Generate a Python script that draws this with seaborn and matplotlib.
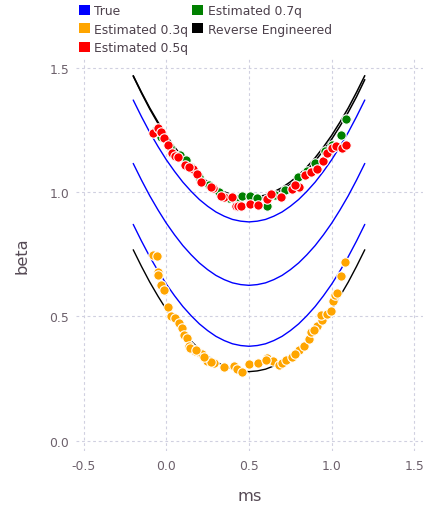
import numpy as np
import pandas as pd
import matplotlib
matplotlib.use("Agg")
import matplotlib.pyplot as plt
from matplotlib.patches import Patch
import seaborn as sns

# ---------------- data ----------------
curve_x = [-0.2, -0.15, -0.1, -0.05, 0.0, 0.05, 0.1, 0.15, 0.2, 0.25, 0.3, 0.35, 0.4, 0.45, 0.5,
           0.55, 0.6, 0.65, 0.7, 0.75, 0.8, 0.85, 0.9, 0.95, 1.0, 1.05, 1.1, 1.15, 1.2]
true_q7 = [1.37, 1.303, 1.24, 1.183, 1.13, 1.083, 1.04, 1.003, 0.97, 0.943, 0.92, 0.903, 0.89, 0.883, 0.88,
           0.883, 0.89, 0.903, 0.92, 0.943, 0.97, 1.003, 1.04, 1.083, 1.13, 1.183, 1.24, 1.303, 1.37]
true_q5 = [1.115, 1.048, 0.985, 0.928, 0.875, 0.828, 0.785, 0.748, 0.715, 0.688, 0.665, 0.648, 0.635, 0.628, 0.625,
           0.628, 0.635, 0.648, 0.665, 0.688, 0.715, 0.748, 0.785, 0.828, 0.875, 0.928, 0.985, 1.048, 1.115]
true_q3 = [0.87, 0.803, 0.74, 0.683, 0.63, 0.583, 0.54, 0.503, 0.47, 0.443, 0.42, 0.403, 0.39, 0.383, 0.38,
           0.383, 0.39, 0.403, 0.42, 0.443, 0.47, 0.503, 0.54, 0.583, 0.63, 0.683, 0.74, 0.803, 0.87]
rev_a = [1.468, 1.401, 1.338, 1.281, 1.228, 1.181, 1.138, 1.101, 1.068, 1.041, 1.018, 1.001, 0.988, 0.981, 0.978,
         0.981, 0.988, 1.001, 1.018, 1.041, 1.068, 1.101, 1.138, 1.181, 1.228, 1.281, 1.338, 1.401, 1.468]
rev_b = [1.466, 1.398, 1.334, 1.276, 1.222, 1.174, 1.131, 1.093, 1.060, 1.033, 1.010, 0.993, 0.980, 0.973, 0.970,
         0.973, 0.980, 0.992, 1.009, 1.031, 1.057, 1.089, 1.125, 1.167, 1.213, 1.265, 1.321, 1.383, 1.452]
rev_c = [0.768, 0.701, 0.638, 0.581, 0.528, 0.481, 0.438, 0.401, 0.368, 0.341, 0.318, 0.301, 0.288, 0.281, 0.278,
         0.281, 0.288, 0.301, 0.318, 0.341, 0.368, 0.401, 0.438, 0.481, 0.528, 0.581, 0.638, 0.701, 0.768]

q3_x = [-0.082, -0.058, -0.050, -0.048, -0.032, -0.016, 0.010, 0.027, 0.051, 0.075, 0.093, 0.109,
        0.123, 0.139, 0.157, 0.175, 0.206, 0.246, 0.290, 0.351, 0.411, 0.426, 0.460, 0.502,
        0.556, 0.611, 0.647, 0.683, 0.698, 0.722, 0.758, 0.802, 0.833, 0.861, 0.875, 0.909,
        0.943, 0.935, 0.970, 0.998, 1.010, 1.020, 1.034, 1.058, 1.082, 0.145, 0.215, 0.270,
        0.605, 0.780, 0.890, 0.180, 0.230]
q3_y = [0.748, 0.742, 0.680, 0.665, 0.628, 0.606, 0.539, 0.503, 0.494, 0.472, 0.452, 0.426,
        0.413, 0.380, 0.369, 0.362, 0.354, 0.322, 0.311, 0.298, 0.300, 0.288, 0.275, 0.307,
        0.313, 0.333, 0.321, 0.305, 0.311, 0.326, 0.337, 0.366, 0.382, 0.409, 0.436, 0.460,
        0.487, 0.506, 0.510, 0.520, 0.561, 0.587, 0.594, 0.661, 0.718, 0.375, 0.350, 0.318,
        0.326, 0.350, 0.445, 0.365, 0.335]

q5_x = [-0.082, -0.048, -0.032, -0.014, 0.012, 0.033, 0.053, 0.073, 0.113, 0.163, 0.187, 0.210,
        0.284, 0.351, 0.395, 0.419, 0.435, 0.452, 0.506, 0.556, 0.611, 0.633, 0.692, 0.758,
        0.804, 0.839, 0.873, 0.911, 0.945, 0.970, 1.000, 1.024, 1.062, 1.086, 0.270, 0.330,
        0.140, 0.780]
q5_y = [1.238, 1.257, 1.243, 1.218, 1.191, 1.156, 1.144, 1.140, 1.110, 1.093, 1.074, 1.039,
        1.015, 0.979, 0.979, 0.945, 0.945, 0.943, 0.952, 0.948, 0.972, 0.992, 0.981, 1.012,
        1.022, 1.070, 1.082, 1.093, 1.124, 1.156, 1.177, 1.187, 1.177, 1.191, 1.020, 0.985,
        1.100, 1.030]

q7_x = [-0.060, -0.030, 0.020, 0.080, 0.120, 0.150, 0.200, 0.260, 0.320, 0.380, 0.420, 0.456,
        0.506, 0.550, 0.611, 0.660, 0.720, 0.798, 0.850, 0.900, 0.960, 1.000, 1.056, 1.085]
q7_y = [1.250, 1.220, 1.180, 1.150, 1.130, 1.100, 1.060, 1.030, 1.000, 0.975, 0.965, 0.986,
        0.986, 0.975, 0.943, 0.990, 1.010, 1.059, 1.085, 1.115, 1.165, 1.190, 1.230, 1.295]

legend_labels = ["True", "Estimated 0.3q", "Estimated 0.5q", "Estimated 0.7q", "Reverse Engineered"]
legend_colors = ["#0000FF", "#FFA500", "#FF0000", "#008000", "#000000"]

x_ticks = [-0.5, 0.0, 0.5, 1.0, 1.5]
y_ticks = [0.0, 0.5, 1.0, 1.5]

# ---------------- figure ----------------
sns.set_theme(style="white")
plt.rcParams["font.family"] = ["DejaVu Sans"]

fig = plt.figure(figsize=(4.3, 5.1), dpi=100)
ax = fig.add_axes([76 / 430, 1 - 452 / 510, (423 - 76) / 430, (452 - 60) / 510])

curves = [(true_q7, "#0000FF", 1.0), (true_q5, "#0000FF", 1.0), (true_q3, "#0000FF", 1.0),
          (rev_a, "#000000", 1.1), (rev_b, "#000000", 1.1), (rev_c, "#000000", 1.0)]
for ys, col, lw in curves:
    sns.lineplot(x=curve_x, y=ys, color=col, linewidth=lw, ax=ax, zorder=2,
                 estimator=None, sort=False)

for xs, ys, col in [(q7_x, q7_y, "#008000"), (q3_x, q3_y, "#FFA500"), (q5_x, q5_y, "#FF0000")]:
    df = pd.DataFrame({"ms": xs, "beta": ys})
    sns.scatterplot(data=df, x="ms", y="beta", color=col, s=46, edgecolor="white",
                    linewidth=0.8, ax=ax, zorder=3, legend=False)

ax.set_xlim(-0.546, 1.552)
ax.set_ylim(-0.041, 1.535)
ax.set_xticks(x_ticks)
ax.set_yticks(y_ticks)
ax.set_xticklabels([f"{v:.1f}" for v in x_ticks])
ax.set_yticklabels([f"{v:.1f}" for v in y_ticks])
ax.grid(True, color="#D0D0E0", linestyle=(0, (2.5, 2.5)), linewidth=0.8)
ax.set_axisbelow(True)
for sp in ax.spines.values():
    sp.set_visible(False)
ax.tick_params(axis="both", length=0, labelsize=8.9, labelcolor="#6c606b")
ax.tick_params(axis="x", pad=6)
ax.tick_params(axis="y", pad=5)
ax.set_xlabel("ms", fontsize=11.7, color="#564a55", labelpad=11)
ax.set_ylabel("beta", fontsize=11.7, color="#564a55", labelpad=14)

handles = [Patch(facecolor=c, edgecolor="none") for c in legend_colors]
fig.legend(handles, legend_labels, ncol=2, loc="upper left",
           bbox_to_anchor=(79 / 430, 1 - 5 / 510), frameon=False, fontsize=8.9,
           handlelength=0.9, handleheight=0.9, handletextpad=0.35, columnspacing=0.3,
           labelspacing=0.45, borderpad=0, borderaxespad=0, labelcolor="#4c404b")

fig.savefig("out.png", dpi=100)
